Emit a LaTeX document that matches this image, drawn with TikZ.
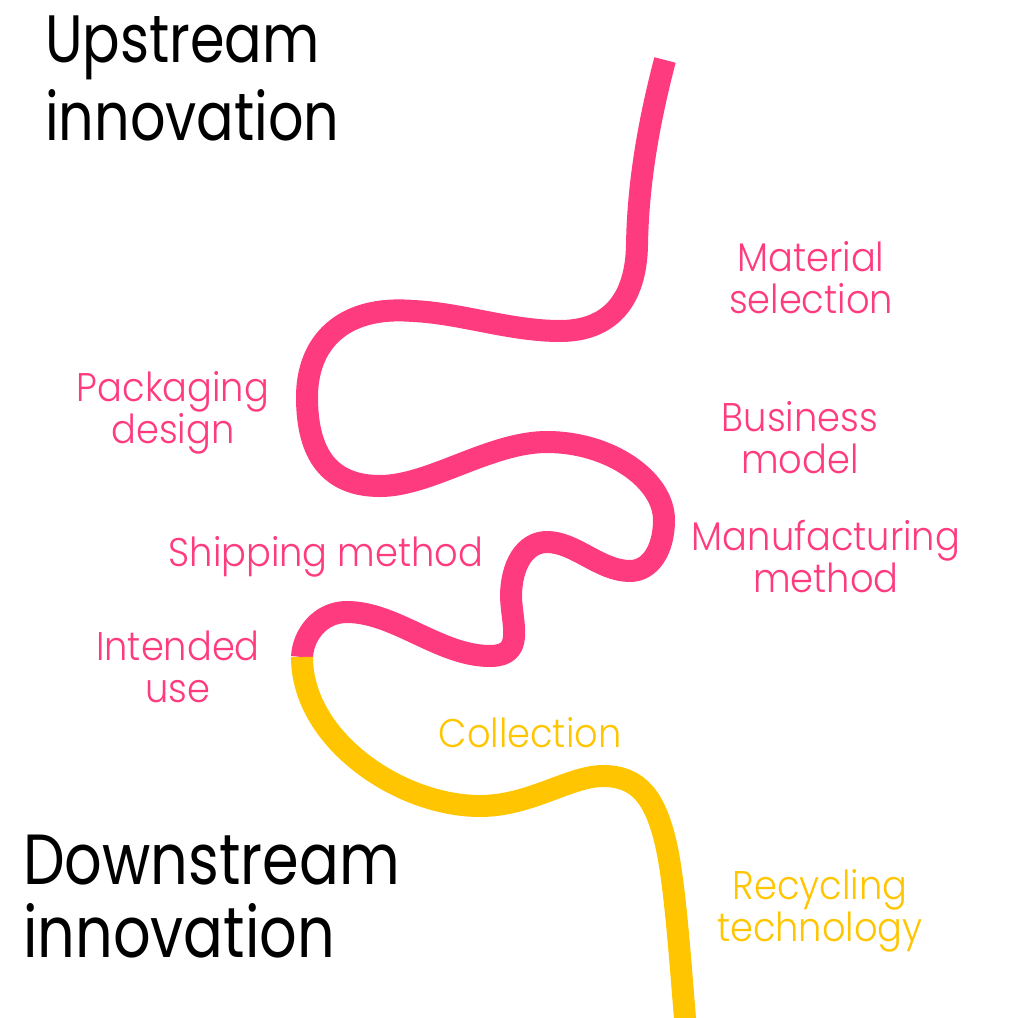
\documentclass[tikz,border=0pt]{standalone}
\usepackage{xcolor}
\usepackage{fontspec}
\setmainfont{Poppins}
\newfontfamily\headfont{Poppins}[FakeStretch=0.83]
\newfontfamily\lightfont{Poppins Light}[FakeStretch=0.92]
\usepackage{tikz}
\usetikzlibrary{positioning}

\definecolor{streampink}{RGB}{255,59,127}
\definecolor{streamgold}{RGB}{255,197,0}

\begin{document}
\begin{tikzpicture}[
  x=1pt, y=-1pt,
  heading/.style={anchor=north west, inner sep=0pt, align=left, text=black},
  label/.style={anchor=north, inner sep=0pt, align=center, font=\lightfont\fontsize{40}{42}\selectfont},
  up/.style={label, text=streampink},
  down/.style={label, text=streamgold},
  river/.style={line width=22pt, line cap=butt, line join=round},
]
\useasboundingbox (0,0) rectangle (1010,1018);

% headings
\node[heading, font=\headfont\fontsize{67}{78}\selectfont] (upstream) at (45,16) {Upstream\\innovation};
\node[heading, font=\headfont\fontsize{71}{73}\selectfont] (downstream) at (23,835) {Downstream\\innovation};

% upstream steps
\node[up] (material) at (811,241) {Material\\selection};
\node[up] (packaging) at (173,371) {Packaging\\design};
\node[up] (business) at (800,401) {Business\\model};
\node[up] (manufacturing) at (826,520) {Manufacturing\\method};
\node[up] (shipping) at (326,536) {Shipping method};
\node[up] (intended) at (178,631) {Intended\\use};

% downstream steps
\node[down] (collection) at (530,717) {Collection};
\node[down] (recycling) at (820,869) {Recycling\\technology};

% the winding line
\coordinate (top) at (665,60);
\coordinate (switch) at (302,657);
\coordinate (bottom) at (686,1030);
\draw[river, streampink] (top)
  .. controls (648,125) and (638,185) .. (637,245)
  .. controls (636,300) and (610,331) .. (560,331)
  .. controls (510,331) and (460,313) .. (413,311)
  .. controls (340,305) and (307,345) .. (307,397)
  .. controls (307,455) and (330,486) .. (380,486)
  .. controls (430,486) and (490,442) .. (547,442)
  .. controls (610,442) and (664,480) .. (664,520)
  .. controls (664,550) and (650,571) .. (630,571)
  .. controls (600,571) and (575,542) .. (547,542)
  .. controls (525,542) and (511,565) .. (511,597)
  .. controls (512,625) and (525,656) .. (490,656)
  .. controls (440,656) and (395,612) .. (347,612)
  .. controls (320,612) and (303,635) .. (switch);
\draw[river, streamgold] (switch)
  .. controls (302,740) and (400,806) .. (480,806)
  .. controls (530,806) and (570,776) .. (603,776)
  .. controls (640,776) and (655,800) .. (665,840)
  .. controls (675,880) and (680,960) .. (bottom);
\end{tikzpicture}
\end{document}
